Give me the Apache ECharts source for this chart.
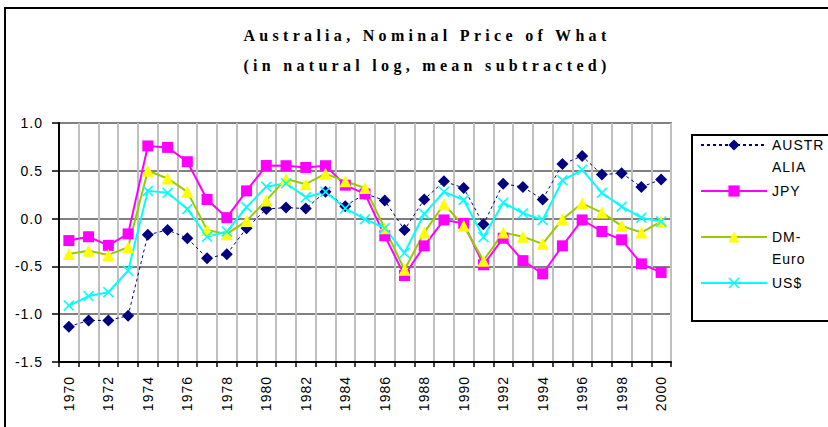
<!DOCTYPE html>
<html><head><meta charset="utf-8">
<script src="https://cdn.jsdelivr.net/npm/echarts@6/dist/echarts.min.js"></script>
<style>
html,body{margin:0;padding:0;background:#fff;}
#chart{width:828px;height:427px;}
#chart svg text{letter-spacing:1px;}
#chart svg text[style*="Serif"]{letter-spacing:4.3px;}
</style></head><body><div id="chart"></div>
<script>
const years = ['1970','1971','1972','1973','1974','1975','1976','1977','1978','1979','1980','1981','1982','1983','1984','1985','1986','1987','1988','1989','1990','1991','1992','1993','1994','1995','1996','1997','1998','1999','2000'];
const australia = [-1.13,-1.065,-1.065,-1.016,-0.17,-0.118,-0.205,-0.414,-0.372,-0.10,0.10,0.115,0.105,0.28,0.13,0.26,0.19,-0.118,0.20,0.39,0.32,-0.06,0.365,0.33,0.20,0.57,0.655,0.46,0.475,0.33,0.41];
const jpy = [-0.23,-0.19,-0.28,-0.16,0.76,0.745,0.595,0.20,0.01,0.29,0.555,0.553,0.535,0.553,0.35,0.258,-0.18,-0.595,-0.285,-0.014,-0.05,-0.483,-0.205,-0.44,-0.577,-0.285,-0.014,-0.135,-0.222,-0.473,-0.563];
const dmEuro = [-0.37,-0.337,-0.38,-0.30,0.50,0.42,0.28,-0.118,-0.163,-0.024,0.19,0.415,0.36,0.47,0.39,0.32,-0.10,-0.535,-0.146,0.15,-0.076,-0.44,-0.146,-0.19,-0.264,-0.006,0.16,0.063,-0.076,-0.146,-0.03];
const usd = [-0.91,-0.81,-0.77,-0.546,0.29,0.27,0.10,-0.19,-0.135,0.12,0.334,0.37,0.223,0.28,0.108,-0.006,-0.10,-0.36,0.05,0.28,0.195,-0.195,0.167,0.056,-0.014,0.40,0.51,0.27,0.125,0.01,-0.03];
const seriesNames = ['AUSTRALIA','JPY','DM-Euro','US$'];
const legendLabels = ['\nAUSTR\nALIA','JPY','\nDM-\nEuro','US$'];
const titleLines = ['Australia, Nominal Price of What','(in natural log, mean subtracted)'];

const chart = echarts.init(document.getElementById('chart'), null, {renderer:'svg'});
const xPath = 'path://M0,1L1,0L5,4L9,0L10,1L6,5L10,9L9,10L5,6L1,10L0,9L4,5Z';
const option = {
  animation:false,
  backgroundColor:'#fff',
  title:{
    text: titleLines.join('\n'), left:422, textAlign:'center', top:15,
    textStyle:{fontFamily:'Liberation Serif', fontWeight:'bold', fontSize:16, lineHeight:30, color:'#000'}
  },
  graphic:[
    {type:'rect', silent:true, z:-10, shape:{x:5,y:8,width:900,height:500}, style:{fill:'none', stroke:'#000', lineWidth:2}},
    {type:'rect', silent:true, z:0, shape:{x:692,y:135,width:200,height:186}, style:{fill:'#fff', stroke:'#000', lineWidth:2}}
  ],
  legend:{
    orient:'vertical', left:700, top:112, padding:0, itemGap:2, itemWidth:66, itemHeight:14,
    textStyle:{fontSize:14, fontFamily:'Liberation Sans', color:'#000', lineHeight:22},
    data: seriesNames.slice(),
    formatter: n => legendLabels[seriesNames.indexOf(n)],
    selectedMode:false
  },
  grid:{left:59, top:123, width:612, height:239, show:true, borderColor:'#808080', borderWidth:2},
  xAxis:{
    type:'category', data:years, boundaryGap:true,
    axisLine:{onZero:false, lineStyle:{color:'#000', width:2}},
    axisTick:{show:true, interval:0, length:5, lineStyle:{color:'#000', width:1.5}},
    axisLabel:{interval:1, rotate:90, margin:14, fontSize:14, color:'#000', fontFamily:'Liberation Sans'},
    splitLine:{show:true, interval:0, lineStyle:{color:'#c0c0c0', width:2}}
  },
  yAxis:{
    type:'value', min:-1.5, max:1.0, interval:0.5,
    axisLine:{show:true, lineStyle:{color:'#000', width:2}},
    axisTick:{show:true, length:7, lineStyle:{color:'#000', width:1.5}},
    axisLabel:{formatter:v=>v.toFixed(1), margin:16, fontSize:14, color:'#000', fontFamily:'Liberation Sans'},
    splitLine:{show:true, lineStyle:{color:'#808080', width:2}}
  },
  series:[
    {name:seriesNames[0], type:'line', data:australia, symbol:'diamond', symbolSize:12,
     itemStyle:{color:'#000080'}, lineStyle:{color:'#000080', width:1, type:[3,3]}},
    {name:seriesNames[1], type:'line', data:jpy, symbol:'rect', symbolSize:11,
     itemStyle:{color:'#ff00ff'}, lineStyle:{color:'#ff00ff', width:2}},
    {name:seriesNames[2], type:'line', data:dmEuro, symbol:'triangle', symbolSize:12,
     itemStyle:{color:'#ffff00'}, lineStyle:{color:'#99cc00', width:2}},
    {name:seriesNames[3], type:'line', data:usd, symbol:xPath, symbolSize:11,
     itemStyle:{color:'#00ffff'}, lineStyle:{color:'#00ffff', width:2}}
  ]
};
chart.setOption(option);
</script></body></html>
